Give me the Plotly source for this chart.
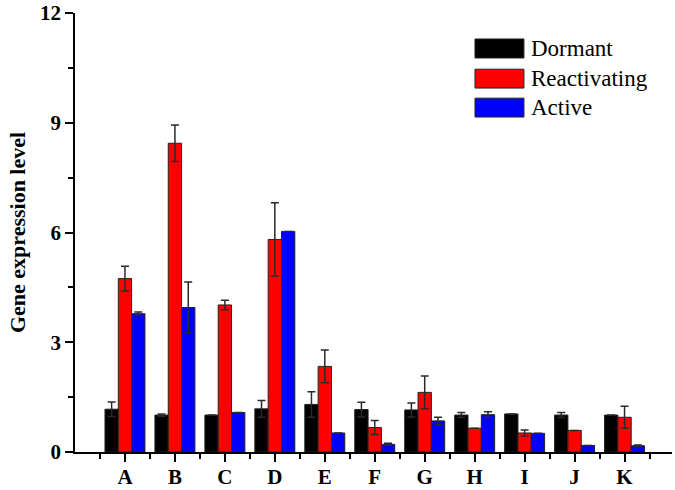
import plotly.graph_objects as go

genes = ["A", "B", "C", "D", "E", "F", "G", "H", "I", "J", "K"]
series_names = ["Dormant", "Reactivating", "Active"]
series_colors = ["#000000", "#ff0000", "#0000ff"]

dormant = [1.17, 1.01, 1.01, 1.18, 1.30, 1.16, 1.15, 1.01, 1.04, 1.01, 1.01]
dormant_err = [0.20, 0.03, 0.0, 0.23, 0.35, 0.20, 0.19, 0.07, 0.0, 0.07, 0.0]
reactivating = [4.74, 8.44, 4.02, 5.81, 2.34, 0.67, 1.63, 0.65, 0.52, 0.59, 0.95]
reactivating_err = [0.34, 0.50, 0.13, 1.00, 0.45, 0.19, 0.45, 0.0, 0.08, 0.0, 0.30]
active = [3.78, 3.95, 1.08, 6.03, 0.52, 0.21, 0.85, 1.02, 0.51, 0.18, 0.17]
active_err = [0.05, 0.70, 0.0, 0.0, 0.0, 0.03, 0.10, 0.08, 0.0, 0.0, 0.02]

y_ticks = [0, 3, 6, 9, 12]
y_title = "Gene expression level"

FONT = "Liberation Serif"
values = [dormant, reactivating, active]
errors = [dormant_err, reactivating_err, active_err]
xpos = list(range(len(genes)))

fig = go.Figure()
for name, color, vals, errs in zip(series_names, series_colors, values, errors):
    fig.add_trace(go.Bar(
        x=xpos, y=vals, name=name,
        marker=dict(color=color, line=dict(color="#222222", width=1)),
        error_y=dict(type="data", array=errs, visible=True,
                     color="#2a2a2a", thickness=1.5, width=4),
        showlegend=False,
    ))

fig.update_layout(
    width=675, height=490,
    margin=dict(l=75, r=3, t=13, b=38, autoexpand=False),
    paper_bgcolor="white", plot_bgcolor="white",
    barmode="group", bargap=0.2, bargroupgap=0,
    font=dict(family=FONT, color="black"),
)

fig.update_xaxes(
    range=[-1, 10.95], automargin=False,
    tickmode="array", tickvals=xpos, ticktext=genes,
    tickfont=dict(family=FONT, size=21, color="black", weight="bold"),
    ticks="outside", ticklen=8, tickwidth=1.5, tickcolor="black",
    ticklabelstandoff=-3,
    minor=dict(tick0=0.5, dtick=1, ticks="outside", ticklen=5,
               tickwidth=1.5, tickcolor="black"),
    showline=True, linecolor="black", linewidth=1.5,
    showgrid=False, zeroline=False,
)

fig.update_yaxes(
    range=[0, 12], automargin=False,
    tickmode="array", tickvals=y_ticks,
    tickfont=dict(family=FONT, size=21, color="black", weight="bold"),
    ticks="outside", ticklen=8, tickwidth=1.5, tickcolor="black",
    minor=dict(dtick=1.5, ticks="outside", ticklen=5,
               tickwidth=1.5, tickcolor="black"),
    showline=True, linecolor="black", linewidth=1.5,
    showgrid=False, zeroline=False,
    title=dict(text=y_title, standoff=8,
               font=dict(family=FONT, size=22, color="black", weight="bold")),
)

# custom legend with wide swatches
swatch_y = [(0.8975, 0.9408), (0.829, 0.872), (0.763, 0.806)]
for name, color, (y0, y1) in zip(series_names, series_colors, swatch_y):
    fig.add_shape(type="rect", xref="paper", yref="paper",
                  x0=0.670, x1=0.752, y0=y0, y1=y1,
                  fillcolor=color, line=dict(color="#222222", width=1))
    fig.add_annotation(xref="paper", yref="paper", x=0.760, y=(y0 + y1) / 2,
                       text=name, showarrow=False, xanchor="left", yanchor="middle",
                       font=dict(family=FONT, size=23, color="black"))

fig.write_html("out.html", config={"displayModeBar": False},
               post_script="document.body.style.margin='0';document.body.style.padding='0';")
